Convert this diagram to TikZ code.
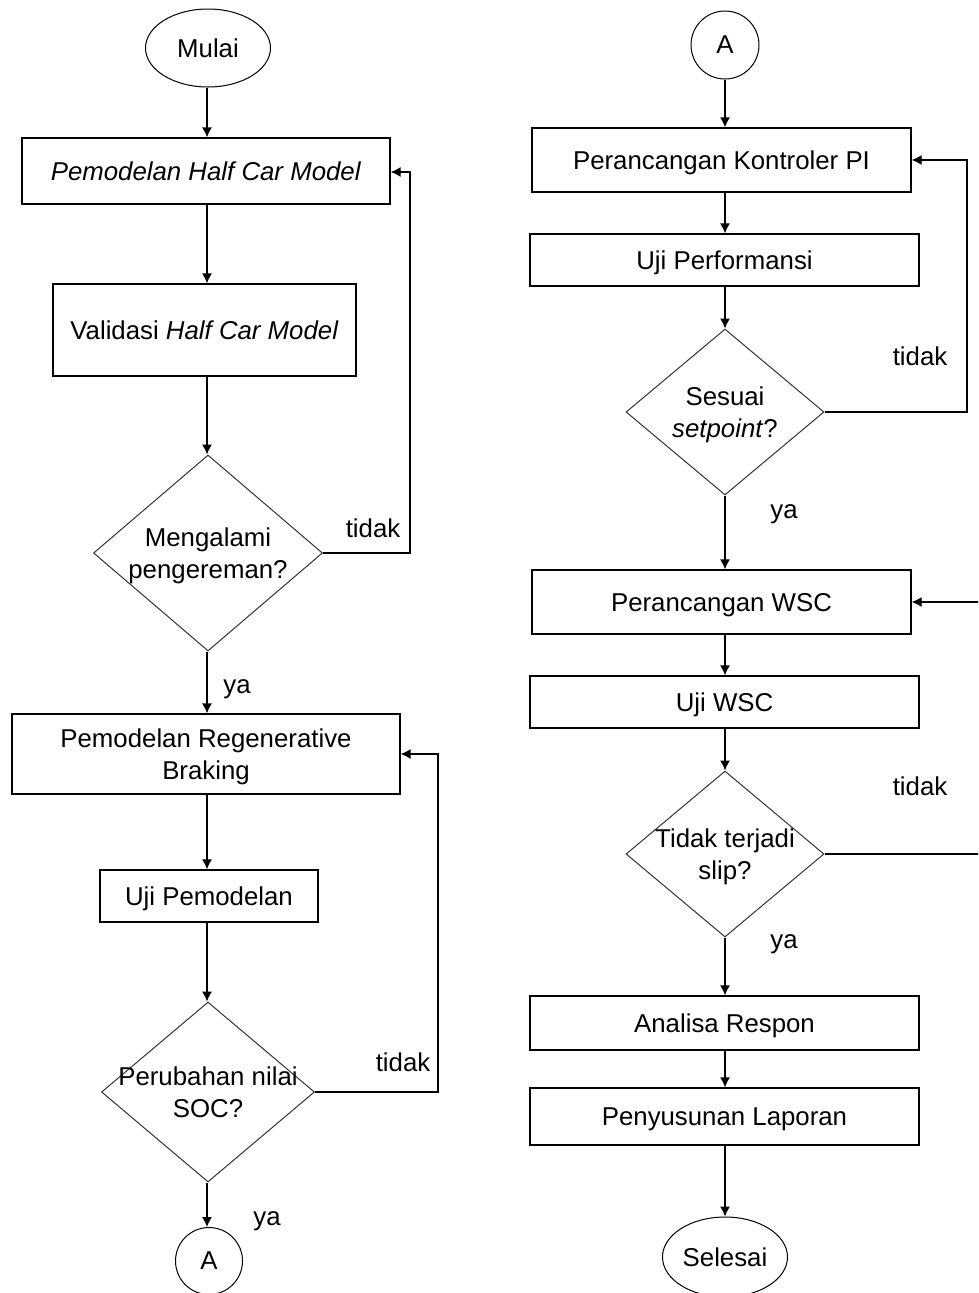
\documentclass[tikz,border=0pt]{standalone}
\usepackage{fontspec}
\setmainfont{Liberation Sans}
\usetikzlibrary{shapes.geometric,arrows.meta}
\begin{document}
\begin{tikzpicture}[x=1pt,y=-1pt,
  every node/.style={font=\fontsize{25.8}{32}\selectfont, text=black, text depth=0pt},
  box/.style={draw, line width=1.3pt, rectangle, inner sep=0pt, align=center},
  dec/.style={draw, line width=1pt, diamond, inner sep=0pt, color=black!80},
  term/.style={draw, line width=1pt, ellipse, inner sep=0pt},
  conn/.style={draw, line width=1pt, circle, inner sep=0pt},
  arr/.style={line width=1.3pt, -{Latex[length=10pt,width=10pt]}},
  lbl/.style={inner sep=0pt}
]
\useasboundingbox (0,0) rectangle (978,1293);
\fill[white] (0,0) rectangle (978,1293);
\clip (0,0) rectangle (978,1293);

% ---------- left column ----------
\coordinate (cl) at (207,0);
\node[term, minimum width=125pt, minimum height=78pt] (start) at (208,48) {Mulai};
\node[box, minimum width=368pt, minimum height=66pt] (b1) at (206,171) {\textit{Pemodelan Half Car Model}};
\node[box, minimum width=303pt, minimum height=92pt] (b2) at (204.5,330) {Validasi \textit{Half Car Model}};
\node[dec, minimum width=229pt, minimum height=196pt] (d1) at (208,553) {};
\node[align=center] (d1t) at (d1.center) {Mengalami\\pengereman?};
\node[box, minimum width=388pt, minimum height=80pt] (b3) at (206,754) {Pemodelan Regenerative\\Braking};
\node[box, minimum width=218pt, minimum height=52pt] (b4) at (209,896) {Uji Pemodelan};
\node[dec, minimum width=213pt, minimum height=180pt] (d2) at (208,1092) {};
\node[align=center] (d2t) at (d2.center) {Perubahan nilai\\SOC?};
\node[conn, minimum size=67pt] (A1) at (209,1261) {A};

\draw[arr] (start.south -| cl) -- (b1.north -| cl);
\draw[arr] (b1.south -| cl) -- (b2.north -| cl);
\draw[arr] (b2.south -| cl) -- (d1.north -| cl);
\draw[arr] (d1.south -| cl) -- (b3.north -| cl);
\draw[arr] (b3.south -| cl) -- (b4.north -| cl);
\draw[arr] (b4.south -| cl) -- (d2.north -| cl);
\draw[arr] (d2.south -| cl) -- (A1.north -| cl);

\coordinate (l1) at (410,172);
\draw[arr] (d1.east) -| (l1) -- (l1 -| b1.east);
\coordinate (l2) at (438,754);
\draw[arr] (d2.east) -| (l2) -- (b3.east);

\node[lbl] (t1) at (373,528) {tidak};
\node[lbl] (y1) at (237,687) {ya};
\node[lbl] (t2) at (403,1062) {tidak};
\node[lbl] (y2) at (267,1219) {ya};

% ---------- right column ----------
\coordinate (cr) at (725,0);
\node[conn, minimum size=68pt] (A2) at (725,45) {A};
\node[box, minimum width=379pt, minimum height=64pt] (b5) at (721.5,160) {Perancangan Kontroler PI};
\node[box, minimum width=389pt, minimum height=52pt] (b6) at (724.5,260) {Uji Performansi};
\node[dec, minimum width=198pt, minimum height=166pt] (d3) at (725,412) {};
\node[align=center] (d3t) at (d3.center) {Sesuai\\\textit{setpoint}?};
\node[box, minimum width=379pt, minimum height=64pt] (b7) at (721.5,602) {Perancangan WSC};
\node[box, minimum width=389pt, minimum height=52pt] (b8) at (724.5,702) {Uji WSC};
\node[dec, minimum width=198pt, minimum height=166pt] (d4) at (725,854) {};
\node[align=center] (d4t) at (d4.center) {Tidak terjadi\\slip?};
\node[box, minimum width=389pt, minimum height=54pt] (b9) at (724.5,1023) {Analisa Respon};
\node[box, minimum width=389pt, minimum height=57pt] (b10) at (724.5,1116.5) {Penyusunan Laporan};
\node[term, minimum width=125pt, minimum height=80pt] (end) at (725,1257) {Selesai};

\draw[arr] (A2.south -| cr) -- (b5.north -| cr);
\draw[arr] (b5.south -| cr) -- (b6.north -| cr);
\draw[arr] (b6.south -| cr) -- (d3.north -| cr);
\draw[arr] (d3.south -| cr) -- (b7.north -| cr);
\draw[arr] (b7.south -| cr) -- (b8.north -| cr);
\draw[arr] (b8.south -| cr) -- (d4.north -| cr);
\draw[arr] (d4.south -| cr) -- (b9.north -| cr);
\draw[arr] (b9.south -| cr) -- (b10.north -| cr);
\draw[arr] (b10.south -| cr) -- (end.north -| cr);

\coordinate (l3) at (967,160);
\draw[arr] (d3.east) -| (l3) -- (b5.east);
\coordinate (l4) at (990,602);
\draw[arr] (d4.east) -| (l4) -- (b7.east);

\node[lbl] (t3) at (920,356) {tidak};
\node[lbl] (y3) at (784,512) {ya};
\node[lbl] (t4) at (920,786) {tidak};
\node[lbl] (y4) at (784,942) {ya};
\end{tikzpicture}
\end{document}
